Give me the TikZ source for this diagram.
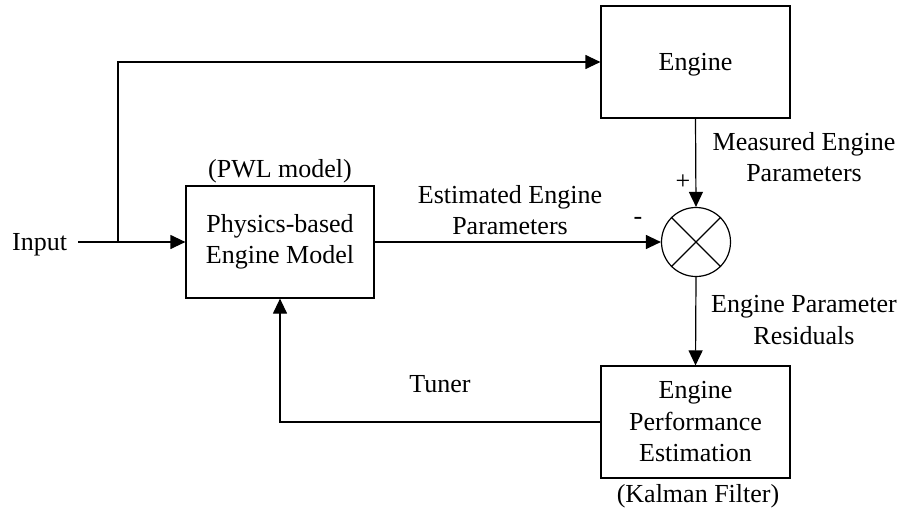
\documentclass[tikz,border=0pt]{standalone}
\usepackage{fontspec}
\setmainfont{Liberation Serif}
\usetikzlibrary{arrows.meta}
\begin{document}
\begin{tikzpicture}[x=1pt,y=-1pt,
  every node/.style={font=\fontsize{26}{31.5}\selectfont, inner sep=0pt},
  blockbox/.style={draw, line width=1.2pt, minimum width=188pt, minimum height=112pt, align=center},
  sumnode/.style={draw, circle, line width=1.2pt, minimum size=69pt},
  lbl/.style={align=center},
  conn/.style={line width=1.2pt, -{Triangle[length=15pt,width=14pt]}},
  plain/.style={line width=1.2pt}]
\useasboundingbox (0,0) rectangle (904,517);

% blocks
\node[blockbox] (phys) at (280,242) {Physics-based\\Engine Model};
\node[blockbox, minimum width=189pt, text depth=0pt] (engine) at (695.5,62) {Engine};
\node[blockbox, minimum width=189pt] (kf) at (695.5,422) {Engine\\Performance\\Estimation};
\node[sumnode] (sum) at (696,242) {};
\draw[plain] (sum.north east) -- (sum.south west);
\draw[plain] (sum.north west) -- (sum.south east);

% labels
\node[anchor=base west] (inlbl) at (12,250) {Input};
\node[anchor=base] (pwl) at (280,177) {(PWL model)};
\node[anchor=base] (kal) at (698,502) {(Kalman Filter)};
\node[lbl] (est) at (510,210) {Estimated Engine\\Parameters};
\node[lbl] (meas) at (804,157) {Measured Engine\\Parameters};
\node[lbl] (res) at (804,320) {Engine Parameter\\Residuals};
\node[anchor=base] (tun) at (440,392) {Tuner};
\node (plus) at (683,182) {+};
\node (minus) at (638,221) {-};

% connectors
\coordinate (inS) at (78,242);
\coordinate (br) at (118,242);
\draw[conn] (inS) -- (phys.west);
\draw[conn] (br) |- (engine.west);
\draw[conn] (phys.east) -- (sum.west);
\draw[conn] (engine.south) -- (sum.north);
\draw[conn] (sum.south) -- (kf.north);
\draw[conn] (kf.west) -| (phys.south);
\end{tikzpicture}
\end{document}
